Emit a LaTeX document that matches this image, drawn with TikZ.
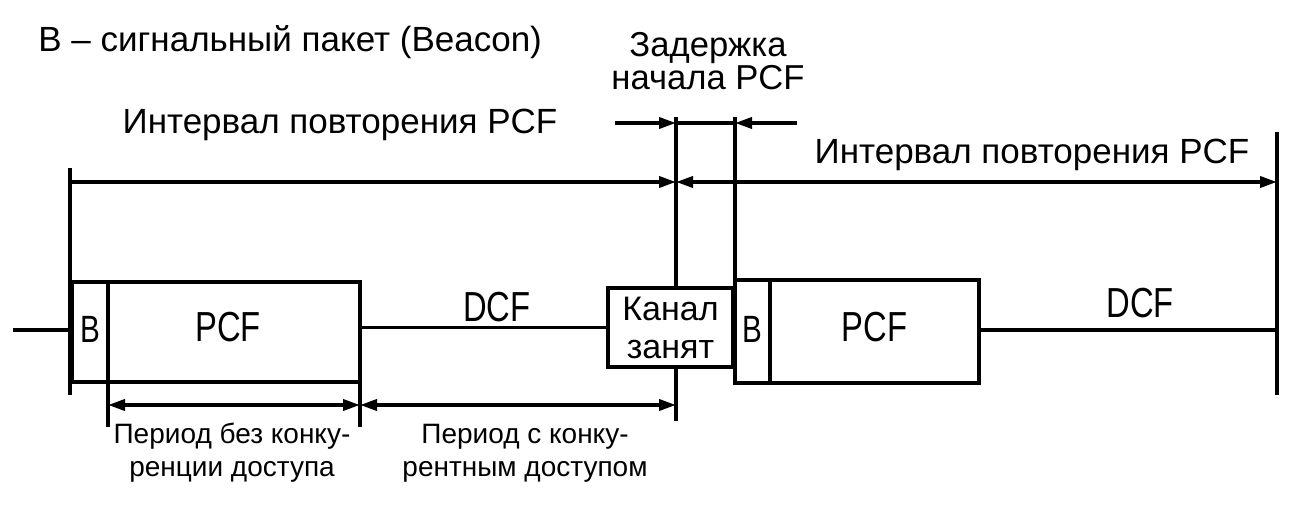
\documentclass[tikz,border=0pt]{standalone}
\usepackage{fontspec}
\setmainfont{Liberation Sans}
\newfontfamily\condfont[FakeStretch=0.78]{Liberation Sans}
\usetikzlibrary{arrows.meta}
\begin{document}
\begin{tikzpicture}[x=0.5pt,y=-0.5pt,
  boxthick/.style={draw,line width=2.4pt,fill=white,inner sep=0pt},
  vline/.style={line width=2.4pt},
  thinline/.style={line width=1.6pt},
  arr/.style={line width=1.8pt,-{Triangle[length=8.5pt,width=5.5pt]}},
  darr/.style={line width=1.8pt,{Triangle[length=8.5pt,width=5.5pt]}-{Triangle[length=8.5pt,width=5.5pt]}},
  lbl/.style={inner sep=0pt,font=\fontsize{17.5}{19}\selectfont},
  clbl/.style={inner sep=0pt,font=\condfont\fontsize{21}{22}\selectfont},
  slbl/.style={inner sep=0pt,align=center,font=\fontsize{14}{16.5}\selectfont}]
\useasboundingbox (0,0) rectangle (1310,513);
% vertical lines
\coordinate (v0t) at (70,168); \coordinate (v0b) at (70,395);
\coordinate (v1t) at (676,117); \coordinate (v1b) at (676,421);
\coordinate (v2t) at (735,117); \coordinate (v2b) at (735,282);
\coordinate (v3t) at (1277,132); \coordinate (v3b) at (1277,395);
\coordinate (v4t) at (108,382); \coordinate (v4b) at (108,427);
\coordinate (v5t) at (360,382); \coordinate (v5b) at (360,427);
\draw[vline] (v0t) -- (v0b);
\draw[vline] (v1t) -- (v1b);
\draw[vline] (v2t) -- (v2b);
\draw[vline] (v3t) -- (v3b);
\draw[vline] (v4t) -- (v4b);
\draw[vline] (v5t) -- (v5b);
% boxes
\node[boxthick,minimum width=18pt,minimum height=50pt] (b1) at (90,332) {};
\node[boxthick,minimum width=126pt,minimum height=50pt] (p1) at (234,332) {};
\node[boxthick,minimum width=62.5pt,minimum height=39.5pt,align=center,font=\fontsize{17}{19}\selectfont] (ch) at (670.5,327.5) {Канал\\занят};
\node[boxthick,minimum width=17.5pt,minimum height=51.5pt] (b2) at (752.5,331.5) {};
\node[boxthick,minimum width=104.5pt,minimum height=51.5pt] (p2) at (874.5,331.5) {};
\node[clbl,font=\condfont\fontsize{19}{20}\selectfont] (b1t) at (90,329) {B};
\node[clbl,font=\condfont\fontsize{19}{20}\selectfont] (b2t) at (752.5,329) {B};
\node[clbl] (p1t) at (228,327) {PCF};
\node[clbl] (p2t) at (874.5,327) {PCF};
% timeline
\coordinate (start) at (13,330);
\coordinate (end) at (1277,330);
\draw[thinline] (start) -- (b1.west |- start);
\draw[thinline] (p1.east |- ch.west) -- (ch.west);
\draw[thinline] (p2.east |- end) -- (end);
% delay arrows
\coordinate (d0) at (615,123); \coordinate (d1) at (676,123);
\coordinate (d2) at (735,123); \coordinate (d3) at (797,123);
\draw[arr] (d0) -- (d1);
\draw[arr] (d3) -- (d2);
\draw[line width=1.8pt] (d1) -- (d2);
% interval arrows
\coordinate (i0) at (70,182); \coordinate (i1) at (676,182); \coordinate (i2) at (1277,182);
\draw[arr] (i0) -- (i1);
\draw[darr] (i1) -- (i2);
% bottom arrows
\coordinate (a0) at (108,405); \coordinate (a1) at (360,405); \coordinate (a2) at (676,405);
\draw[darr] (a0) -- (a1);
\draw[darr] (a1) -- (a2);
% labels
\node[lbl,anchor=west] (title) at (38,42) {B – сигнальный пакет (Beacon)};
\node[lbl,align=center,font=\fontsize{17.3}{15}\selectfont] (delay) at (708,61) {Задержка\\начала PCF};
\node[lbl] (int1) at (340,125) {Интервал повторения PCF};
\node[lbl] (int2) at (1032,155) {Интервал повторения PCF};
\node[clbl] (dcf1) at (497,307) {DCF};
\node[clbl] (dcf2) at (1140,303) {DCF};
\node[slbl] (per1) at (232,453) {Период без конку-\\ренции доступа};
\node[slbl] (per2) at (525,453) {Период с конку-\\рентным доступом};
\end{tikzpicture}
\end{document}
